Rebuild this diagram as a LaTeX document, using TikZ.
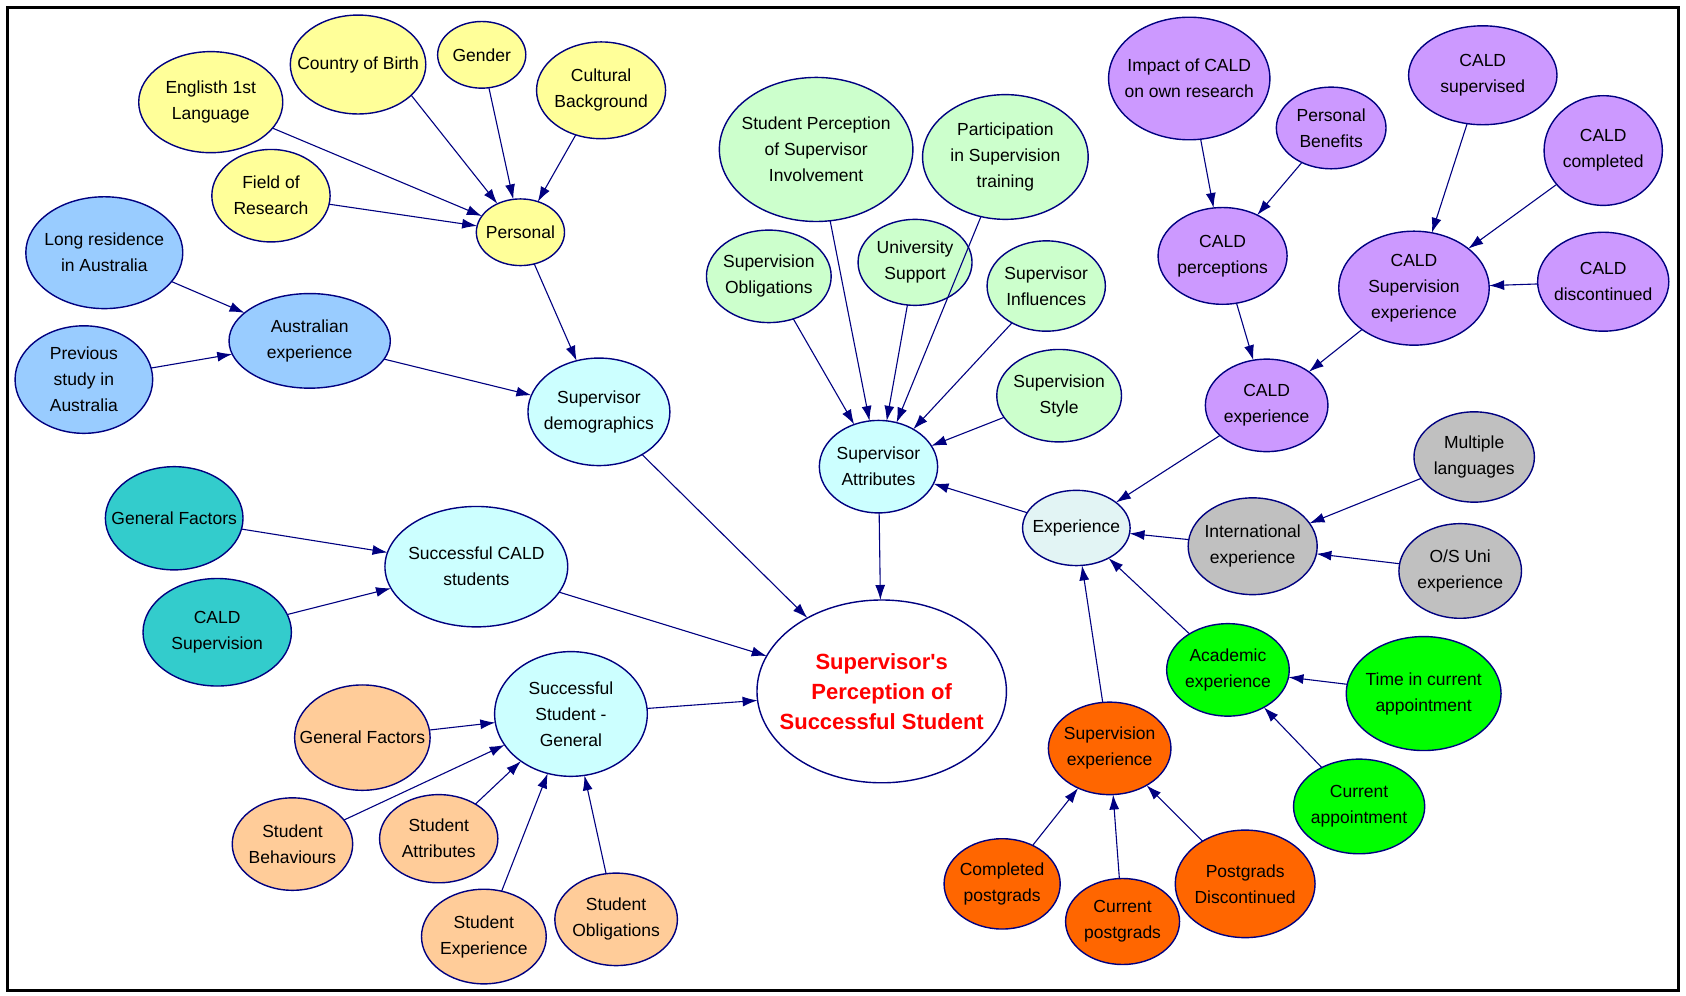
\documentclass[tikz,border=0pt]{standalone}
\usepackage{fontspec}
\setmainfont{Liberation Sans}
\usetikzlibrary{shapes.geometric,arrows.meta}
\definecolor{navy}{HTML}{000080}
\definecolor{cyel}{HTML}{FFFF99}
\definecolor{cblu}{HTML}{99CCFF}
\definecolor{ccya}{HTML}{CCFFFF}
\definecolor{ctea}{HTML}{33CCCC}
\definecolor{cpea}{HTML}{FFCC99}
\definecolor{clgr}{HTML}{CCFFCC}
\definecolor{cpur}{HTML}{CC99FF}
\definecolor{cexp}{HTML}{E2F4F4}
\definecolor{cgry}{HTML}{C0C0C0}
\definecolor{cgrn}{HTML}{00FF00}
\definecolor{cora}{HTML}{FF6600}
\tikzset{
  nd/.style={ellipse, draw=navy, line width=1.4pt, inner xsep=-16pt, inner ysep=-5pt, outer sep=0pt,
    align=center, font=\fontsize{17.5}{26}\selectfont},
  sz/.style 2 args={minimum width=#1*2.1506pt, minimum height=#2*2.1506pt},
  yel/.style={fill=cyel}, blu/.style={fill=cblu}, cya/.style={fill=ccya},
  tea/.style={fill=ctea}, pea/.style={fill=cpea}, lgr/.style={fill=clgr},
  pur/.style={fill=cpur}, gry/.style={fill=cgry}, grn/.style={fill=cgrn},
  ora/.style={fill=cora},
  ar/.style={draw=navy, line width=1.1pt, -{Latex[length=15pt,width=10pt]}},
}
\begin{document}
\begin{tikzpicture}[x=1.0753pt, y=-1.0753pt]
\useasboundingbox (0,0) rectangle (1568,926);
\draw[line width=3.5pt] (7,7) rectangle (1561,921);
% yellow
\node[nd,yel,sz={67}{47}] (eng) at (196,95) {Englisth 1st\\Language};
\node[nd,yel,sz={63}{46}] (cob) at (333,60) {Country of Birth};
\node[nd,yel,sz={41}{31}] (gen) at (448,51) {Gender};
\node[nd,yel,sz={60}{45}] (cul) at (559,84) {Cultural\\Background};
\node[nd,yel,sz={55}{43}] (for) at (252,182) {Field of\\Research};
\node[nd,yel,sz={41}{31}] (per) at (484,216) {Personal};
% blue
\node[nd,blu,sz={73}{52}] (lra) at (97,235) {Long residence\\in Australia};
\node[nd,blu,sz={64}{50}] (psa) at (78,353) {Previous\\study in\\Australia};
\node[nd,blu,sz={75}{44}] (aue) at (288,317) {Australian\\experience};
% cyan
\node[nd,cya,sz={66}{50}] (sdm) at (557,383) {Supervisor\\demographics};
\node[nd,cya,sz={55}{43}] (sat) at (817,434) {Supervisor\\Attributes};
\node[nd,cya,sz={85}{56}] (scs) at (443,527) {Successful CALD\\students};
\node[nd,cya,sz={71}{58}] (ssg) at (531,664) {Successful\\Student -\\General};
\node[nd,fill=white,sz={116}{85},text=red,font=\fontsize{22}{30}\selectfont\bfseries] (cen) at (820,643) {Supervisor\textquotesingle s\\Perception of\\Successful Student};
% teal
\node[nd,tea,sz={64}{48}] (gft) at (162,482) {General Factors};
\node[nd,tea,sz={69}{50}] (cls) at (202,588) {CALD\\Supervision};
% peach
\node[nd,pea,sz={63}{49}] (gfp) at (337,686) {General Factors};
\node[nd,pea,sz={56}{43}] (sbh) at (272,785) {Student\\Behaviours};
\node[nd,pea,sz={55}{41}] (sta) at (408,780) {Student\\Attributes};
\node[nd,pea,sz={58}{44}] (sex) at (450,871) {Student\\Experience};
\node[nd,pea,sz={57}{43}] (sbo) at (573,855) {Student\\Obligations};
% light green
\node[nd,lgr,sz={90}{67}] (spi) at (759,139) {Student Perception\\of Supervisor\\Involvement};
\node[nd,lgr,sz={77}{58}] (pst) at (935,146) {Participation\\in Supervision\\training};
\node[nd,lgr,sz={58}{43}] (svo) at (715,257) {Supervision\\Obligations};
\node[nd,lgr,sz={53}{40}] (uns) at (851,244) {University\\Support};
\node[nd,lgr,sz={55}{42}] (sin) at (973,266) {Supervisor\\Influences};
\node[nd,lgr,sz={58}{43}] (sst) at (985,368) {Supervision\\Style};
% purple
\node[nd,pur,sz={75}{57}] (imp) at (1106,73) {Impact of CALD\\on own research};
\node[nd,pur,sz={51}{38}] (pbn) at (1238,119) {Personal\\Benefits};
\node[nd,pur,sz={69}{46}] (csu) at (1379,70) {CALD\\supervised};
\node[nd,pur,sz={55}{51}] (cco) at (1491,140) {CALD\\completed};
\node[nd,pur,sz={60}{45}] (cpe) at (1137,238) {CALD\\perceptions};
\node[nd,pur,sz={70}{53}] (cse) at (1315,268) {CALD\\Supervision\\experience};
\node[nd,pur,sz={61}{46}] (cdi) at (1491,262) {CALD\\discontinued};
\node[nd,pur,sz={57}{43}] (cex) at (1178,377) {CALD\\experience};
% experience
\node[nd,fill=cexp,sz={50}{35}] (exp) at (1001,491) {Experience};
% gray
\node[nd,gry,sz={56}{42}] (mul) at (1371,425) {Multiple\\languages};
\node[nd,gry,sz={60}{45}] (int) at (1165,508) {International\\experience};
\node[nd,gry,sz={57}{44}] (osu) at (1358,531) {O/S Uni\\experience};
% green
\node[nd,grn,sz={57}{43}] (aca) at (1142,623) {Academic\\experience};
\node[nd,grn,sz={72}{53}] (tic) at (1324,645) {Time in current\\appointment};
\node[nd,grn,sz={61}{44}] (cap) at (1264,750) {Current\\appointment};
% orange
\node[nd,ora,sz={57}{43}] (sue) at (1032,696) {Supervision\\experience};
\node[nd,ora,sz={54}{42}] (cmp) at (932,822) {Completed\\postgrads};
\node[nd,ora,sz={53}{40}] (cup) at (1044,857) {Current\\postgrads};
\node[nd,ora,sz={65}{50}] (pgd) at (1158,822) {Postgrads\\Discontinued};
% edges
\draw[ar] (eng) -- (per);
\draw[ar] (cob.-30) -- (per.129);
\draw[ar] (gen) -- (per);
\draw[ar] (cul) -- (per);
\draw[ar] (for) -- (per);
\draw[ar] (per) -- (sdm);
\draw[ar] (lra) -- (aue);
\draw[ar] (psa) -- (aue);
\draw[ar] (aue) -- (sdm);
\draw[ar] (sdm) -- (cen);
\draw[ar] (gft) -- (scs);
\draw[ar] (cls) -- (scs);
\draw[ar] (scs) -- (cen);
\draw[ar] (gfp) -- (ssg);
\draw[ar] (sbh) -- (ssg);
\draw[ar] (sta) -- (ssg);
\draw[ar] (sex) -- (ssg);
\draw[ar] (sbo) -- (ssg);
\draw[ar] (ssg) -- (cen);
\draw[ar] (sat) -- (cen);
\draw[ar] (svo) -- (sat);
\draw[ar] (spi) -- (sat);
\draw[ar] (uns) -- (sat);
\draw[ar] (pst) -- (sat);
\draw[ar] (sin) -- (sat);
\draw[ar] (sst) -- (sat);
\draw[ar] (exp) -- (sat);
\draw[ar] (cex) -- (exp);
\draw[ar] (imp) -- (cpe);
\draw[ar] (pbn) -- (cpe);
\draw[ar] (cpe) -- (cex);
\draw[ar] (csu) -- (cse);
\draw[ar] (cco) -- (cse);
\draw[ar] (cdi) -- (cse);
\draw[ar] (cse) -- (cex);
\draw[ar] (int) -- (exp);
\draw[ar] (mul) -- (int);
\draw[ar] (osu) -- (int);
\draw[ar] (aca) -- (exp);
\draw[ar] (tic) -- (aca);
\draw[ar] (cap) -- (aca);
\draw[ar] (sue) -- (exp);
\draw[ar] (cmp) -- (sue);
\draw[ar] (cup) -- (sue);
\draw[ar] (pgd) -- (sue);
\end{tikzpicture}
\end{document}
